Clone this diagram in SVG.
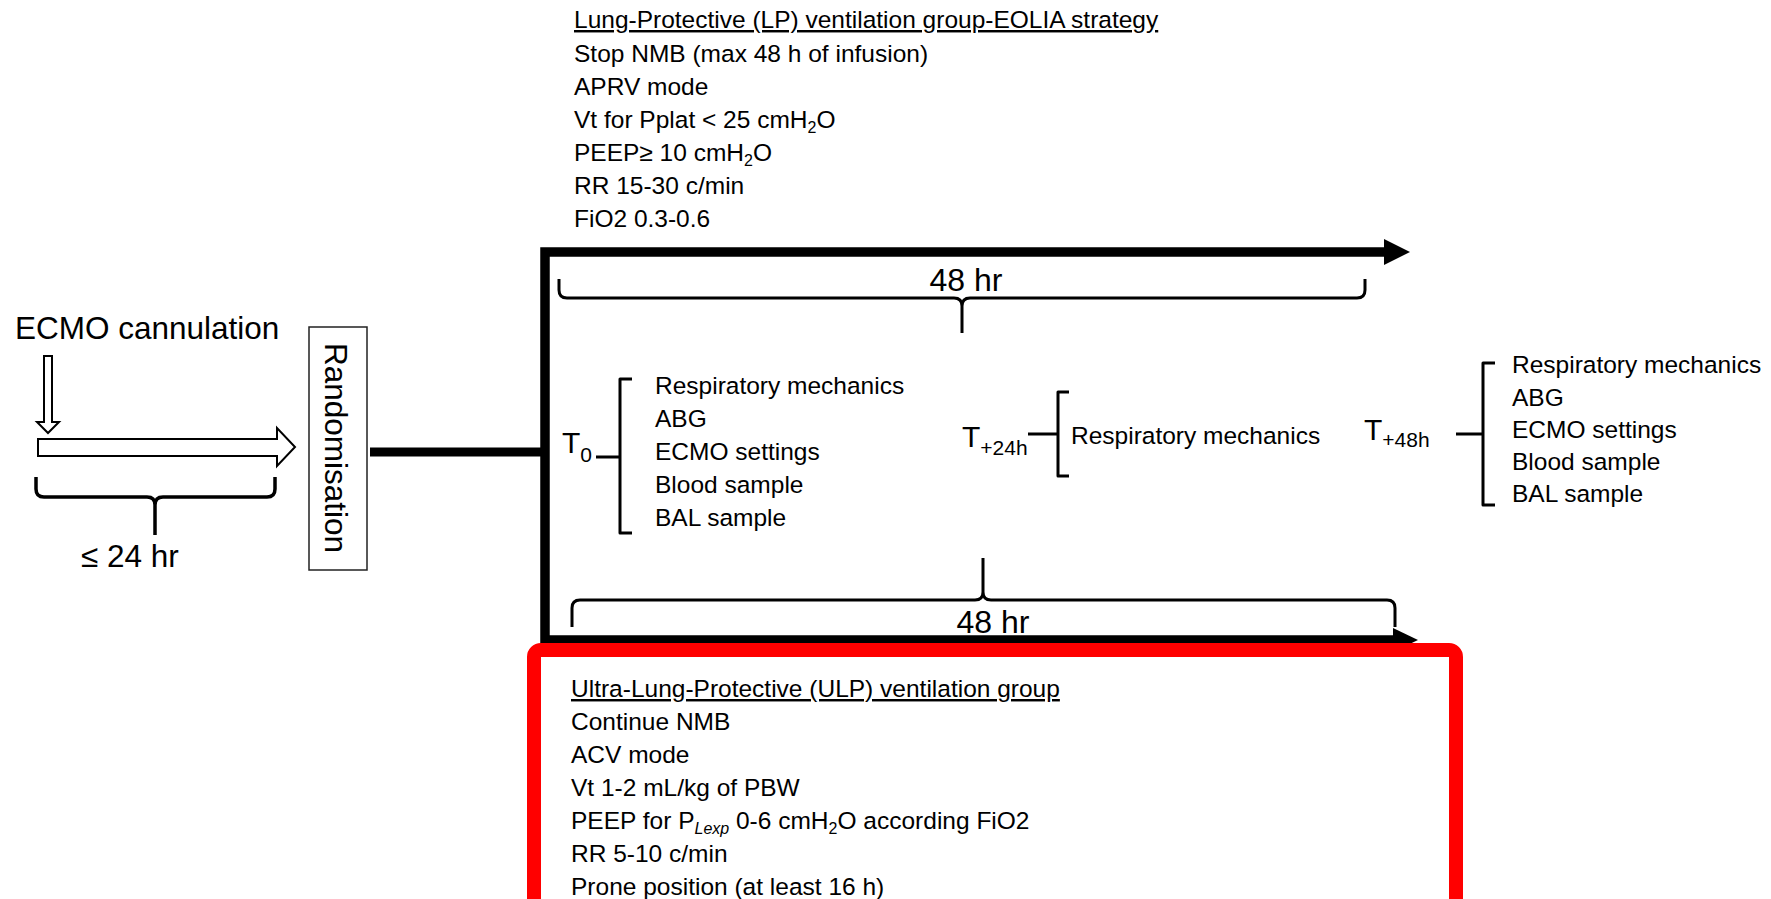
<svg xmlns="http://www.w3.org/2000/svg" width="1771" height="899" viewBox="0 0 1771 899">
<style>
text{font-family:"Liberation Sans",Arial,sans-serif;fill:#000}
.body{font-size:24.5px}
.big{font-size:31.5px}
.hr{font-size:32px}
.sub{font-size:16px}
.tl{font-size:30px}
.ts{font-size:21px}
.thin{fill:none;stroke:#000;stroke-width:3;stroke-linecap:butt;stroke-linejoin:round}
.thick{fill:none;stroke:#000;stroke-width:9.5;stroke-linejoin:miter}
.hollow{fill:#fff;stroke:#000;stroke-width:2;stroke-linejoin:miter}
</style>
<rect x="0" y="0" width="1771" height="899" fill="#fff"/>

<g id="connectors">
  <!-- hollow arrows -->
  <polygon class="hollow" points="44,356 52,356 52,422 59,422 48,433 37,422 44,422"/>
  <polygon class="hollow" points="38,439 277,439 277,428 295,447 277,466 277,456 38,456"/>
  <!-- brace under ECMO arrow -->
  <path class="thin" style="stroke-width:3.5" d="M36,477 V489 Q36,497 44,497 H147 Q155,497 155,505 V535 M155,505 Q155,497 163,497 H267 Q275,497 275,489 V477"/>
  <!-- randomisation to split -->
  <line x1="370" y1="452" x2="545" y2="452" stroke="#000" stroke-width="9"/>
  <!-- split: top arrow, vertical, bottom arrow -->
  <path class="thick" d="M1386,252 H545 V640 H1395"/>
  <polygon points="1384,239 1410,252 1384,265" fill="#000"/>
  <polygon points="1393,628 1418,640 1393,652" fill="#000"/>
  <!-- top brace -->
  <path class="thin" d="M559,279 V290 Q559,298 567,298 H954 Q962,298 962,306 V333 M962,306 Q962,298 970,298 H1357 Q1365,298 1365,290 V279"/>
  <!-- bottom brace -->
  <path class="thin" d="M572,627 V608 Q572,600 580,600 H975 Q983,600 983,592 V558 M983,592 Q983,600 991,600 H1387 Q1395,600 1395,608 V627"/>
  <!-- timepoint brackets -->
  <path class="thin" d="M596,457 H620 M632,379 H620 V533 H632"/>
  <path class="thin" d="M1028,434 H1058 M1069,392 H1058 V476 H1069"/>
  <path class="thin" d="M1456,434 H1483 M1495,363 H1483 V505 H1495"/>
</g>

<g id="node-ecmo">
  <text class="big" x="15" y="339">ECMO cannulation</text>
  <text class="big" x="81" y="567">≤ 24 hr</text>
</g>

<g id="node-randomisation">
  <rect x="309" y="327" width="58" height="243" fill="#fff" stroke="#222" stroke-width="1.5"/>
  <text class="big" text-anchor="middle" transform="translate(325,448) rotate(90)">Randomisation</text>
</g>

<g id="node-lp">
  <text class="body" x="574" y="28" text-decoration="underline">Lung-Protective (LP) ventilation group-EOLIA strategy</text>
  <text class="body" x="574" y="62">Stop NMB (max 48 h of infusion)</text>
  <text class="body" x="574" y="95">APRV mode</text>
  <text class="body" x="574" y="128">Vt for Pplat &lt; 25 cmH<tspan class="sub" dy="5">2</tspan><tspan dy="-5">O</tspan></text>
  <text class="body" x="574" y="161">PEEP≥ 10 cmH<tspan class="sub" dy="5">2</tspan><tspan dy="-5">O</tspan></text>
  <text class="body" x="574" y="194">RR 15-30 c/min</text>
  <text class="body" x="574" y="227">FiO2 0.3-0.6</text>
</g>

<g id="node-48hr-top">
  <text class="hr" x="966" y="291" text-anchor="middle">48 hr</text>
</g>

<g id="node-t0">
  <text class="tl" x="562" y="453">T<tspan class="ts" dy="9">0</tspan></text>
  <text class="body" x="655" y="394">Respiratory mechanics</text>
  <text class="body" x="655" y="427">ABG</text>
  <text class="body" x="655" y="460">ECMO settings</text>
  <text class="body" x="655" y="493">Blood sample</text>
  <text class="body" x="655" y="526">BAL sample</text>
</g>

<g id="node-t24">
  <text class="tl" x="962" y="447">T<tspan class="ts" dy="8">+24h</tspan></text>
  <text class="body" x="1071" y="444">Respiratory mechanics</text>
</g>

<g id="node-t48">
  <text class="tl" x="1364" y="440">T<tspan class="ts" dy="7">+48h</tspan></text>
  <text class="body" x="1512" y="373">Respiratory mechanics</text>
  <text class="body" x="1512" y="406">ABG</text>
  <text class="body" x="1512" y="438">ECMO settings</text>
  <text class="body" x="1512" y="470">Blood sample</text>
  <text class="body" x="1512" y="502">BAL sample</text>
</g>

<g id="node-48hr-bottom">
  <text class="hr" x="993" y="633" text-anchor="middle">48 hr</text>
</g>

<g id="node-ulp">
  <rect x="534" y="650" width="922" height="400" rx="7" fill="#fff" stroke="#ff0000" stroke-width="14"/>
  <text class="body" x="571" y="697" text-decoration="underline">Ultra-Lung-Protective (ULP) ventilation group</text>
  <text class="body" x="571" y="730">Continue NMB</text>
  <text class="body" x="571" y="763">ACV mode</text>
  <text class="body" x="571" y="796">Vt 1-2 mL/kg of PBW</text>
  <text class="body" x="571" y="829">PEEP for P<tspan class="sub" dy="5" font-style="italic">Lexp</tspan><tspan dy="-5"> 0-6 cmH</tspan><tspan class="sub" dy="5">2</tspan><tspan dy="-5">O according FiO2</tspan></text>
  <text class="body" x="571" y="862">RR 5-10 c/min</text>
  <text class="body" x="571" y="895">Prone position (at least 16 h)</text>
</g>
</svg>
